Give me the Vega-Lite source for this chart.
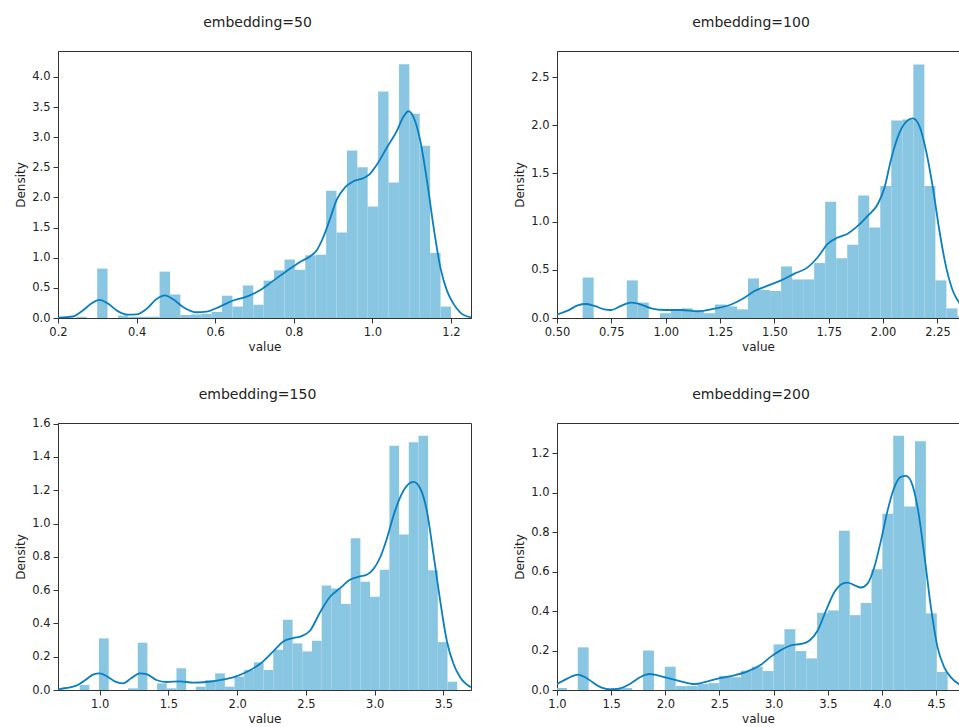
{
  "$schema": "https://vega.github.io/schema/vega-lite/v6.json",
  "padding": {"left": 14, "top": 15, "right": 0, "bottom": 0},
  "background": "white",
  "config": {
    "font": "DejaVu Sans",
    "view": {"stroke": "#333333", "strokeWidth": 1},
    "axis": {"grid": false, "labelFontSize": 11.5, "titleFontSize": 12, "titleFontWeight": "normal", "labelColor": "#222222", "titleColor": "#222222", "domainColor": "#333333", "tickColor": "#333333", "tickSize": 5, "labelPadding": 3, "titlePadding": 4, "labelFlush": false, "labelOverlap": false},
    "title": {"fontSize": 14, "fontWeight": "normal", "color": "#222222", "anchor": "middle", "dx": -7, "offset": 21}
  },
  "datasets": {
    "h50": [
      {"x0": 0.2467, "x1": 0.2732, "density": 0.02},
      {"x0": 0.2997, "x1": 0.3261, "density": 0.82},
      {"x0": 0.3526, "x1": 0.3791, "density": 0.04},
      {"x0": 0.3791, "x1": 0.4056, "density": 0.02},
      {"x0": 0.4056, "x1": 0.4321, "density": 0.02},
      {"x0": 0.4321, "x1": 0.4585, "density": 0.02},
      {"x0": 0.4585, "x1": 0.4850, "density": 0.77},
      {"x0": 0.4850, "x1": 0.5115, "density": 0.39},
      {"x0": 0.5115, "x1": 0.5380, "density": 0.05},
      {"x0": 0.5380, "x1": 0.5645, "density": 0.06},
      {"x0": 0.5645, "x1": 0.5909, "density": 0.07},
      {"x0": 0.5909, "x1": 0.6174, "density": 0.10},
      {"x0": 0.6174, "x1": 0.6439, "density": 0.37},
      {"x0": 0.6439, "x1": 0.6704, "density": 0.19},
      {"x0": 0.6704, "x1": 0.6969, "density": 0.54},
      {"x0": 0.6969, "x1": 0.7233, "density": 0.22},
      {"x0": 0.7233, "x1": 0.7498, "density": 0.62},
      {"x0": 0.7498, "x1": 0.7763, "density": 0.79},
      {"x0": 0.7763, "x1": 0.8028, "density": 0.97},
      {"x0": 0.8028, "x1": 0.8293, "density": 0.80},
      {"x0": 0.8293, "x1": 0.8557, "density": 1.04},
      {"x0": 0.8557, "x1": 0.8822, "density": 1.05},
      {"x0": 0.8822, "x1": 0.9087, "density": 2.11},
      {"x0": 0.9087, "x1": 0.9352, "density": 1.42},
      {"x0": 0.9352, "x1": 0.9617, "density": 2.78},
      {"x0": 0.9617, "x1": 0.9881, "density": 2.50},
      {"x0": 0.9881, "x1": 1.0146, "density": 1.85},
      {"x0": 1.0146, "x1": 1.0411, "density": 3.76},
      {"x0": 1.0411, "x1": 1.0676, "density": 2.25},
      {"x0": 1.0676, "x1": 1.0941, "density": 4.21},
      {"x0": 1.0941, "x1": 1.1205, "density": 3.39},
      {"x0": 1.1205, "x1": 1.1470, "density": 2.86},
      {"x0": 1.1470, "x1": 1.1735, "density": 1.08},
      {"x0": 1.1735, "x1": 1.2000, "density": 0.19}
    ],
    "k50": [
      {"value": 0.2, "density": 0.005}, {"value": 0.238, "density": 0.025}, {"value": 0.264, "density": 0.13},
      {"value": 0.285, "density": 0.24}, {"value": 0.306, "density": 0.30}, {"value": 0.327, "density": 0.24},
      {"value": 0.353, "density": 0.11}, {"value": 0.378, "density": 0.055}, {"value": 0.4, "density": 0.06},
      {"value": 0.425, "density": 0.15}, {"value": 0.45, "density": 0.31}, {"value": 0.472, "density": 0.375},
      {"value": 0.493, "density": 0.31}, {"value": 0.519, "density": 0.18}, {"value": 0.553, "density": 0.095},
      {"value": 0.578, "density": 0.105}, {"value": 0.612, "density": 0.19}, {"value": 0.646, "density": 0.29},
      {"value": 0.68, "density": 0.355}, {"value": 0.714, "density": 0.46}, {"value": 0.748, "density": 0.62},
      {"value": 0.782, "density": 0.78}, {"value": 0.816, "density": 0.93}, {"value": 0.841, "density": 1.02},
      {"value": 0.858, "density": 1.12}, {"value": 0.875, "density": 1.34}, {"value": 0.892, "density": 1.64},
      {"value": 0.909, "density": 1.96}, {"value": 0.931, "density": 2.17}, {"value": 0.952, "density": 2.27},
      {"value": 0.977, "density": 2.32}, {"value": 0.994, "density": 2.39}, {"value": 1.011, "density": 2.54},
      {"value": 1.037, "density": 2.83}, {"value": 1.062, "density": 3.10}, {"value": 1.079, "density": 3.34},
      {"value": 1.092, "density": 3.43}, {"value": 1.105, "density": 3.33}, {"value": 1.122, "density": 2.94},
      {"value": 1.139, "density": 2.28}, {"value": 1.156, "density": 1.50}, {"value": 1.173, "density": 0.84},
      {"value": 1.19, "density": 0.45}, {"value": 1.207, "density": 0.23}, {"value": 1.224, "density": 0.09},
      {"value": 1.251, "density": 0.01}
    ],
    "h100": [
      {"x0": 0.6180, "x1": 0.6687, "density": 0.42},
      {"x0": 0.8208, "x1": 0.8715, "density": 0.39},
      {"x0": 0.8715, "x1": 0.9222, "density": 0.16},
      {"x0": 0.9729, "x1": 1.0236, "density": 0.05},
      {"x0": 1.0236, "x1": 1.0743, "density": 0.08},
      {"x0": 1.0743, "x1": 1.1250, "density": 0.10},
      {"x0": 1.1250, "x1": 1.1757, "density": 0.07},
      {"x0": 1.1757, "x1": 1.2264, "density": 0.05},
      {"x0": 1.2264, "x1": 1.2771, "density": 0.14},
      {"x0": 1.2771, "x1": 1.3278, "density": 0.12},
      {"x0": 1.3278, "x1": 1.3785, "density": 0.09},
      {"x0": 1.3785, "x1": 1.4292, "density": 0.41},
      {"x0": 1.4292, "x1": 1.4799, "density": 0.29},
      {"x0": 1.4799, "x1": 1.5306, "density": 0.28},
      {"x0": 1.5306, "x1": 1.5813, "density": 0.535},
      {"x0": 1.5813, "x1": 1.6320, "density": 0.40},
      {"x0": 1.6320, "x1": 1.6827, "density": 0.40},
      {"x0": 1.6827, "x1": 1.7334, "density": 0.57},
      {"x0": 1.7334, "x1": 1.7841, "density": 1.205},
      {"x0": 1.7841, "x1": 1.8348, "density": 0.62},
      {"x0": 1.8348, "x1": 1.8855, "density": 0.76},
      {"x0": 1.8855, "x1": 1.9362, "density": 1.27},
      {"x0": 1.9362, "x1": 1.9869, "density": 0.94},
      {"x0": 1.9869, "x1": 2.0376, "density": 1.37},
      {"x0": 2.0376, "x1": 2.0883, "density": 2.05},
      {"x0": 2.0883, "x1": 2.1390, "density": 2.06},
      {"x0": 2.1390, "x1": 2.1897, "density": 2.63},
      {"x0": 2.1897, "x1": 2.2404, "density": 1.37},
      {"x0": 2.2404, "x1": 2.2911, "density": 0.39},
      {"x0": 2.2911, "x1": 2.3418, "density": 0.10},
      {"x0": 2.3418, "x1": 2.3925, "density": 0.02}
    ],
    "k100": [
      {"value": 0.5, "density": 0.035}, {"value": 0.549, "density": 0.076}, {"value": 0.595, "density": 0.13},
      {"value": 0.633, "density": 0.145}, {"value": 0.672, "density": 0.125}, {"value": 0.718, "density": 0.09},
      {"value": 0.748, "density": 0.083}, {"value": 0.794, "density": 0.125}, {"value": 0.84, "density": 0.16},
      {"value": 0.879, "density": 0.145}, {"value": 0.933, "density": 0.10}, {"value": 0.994, "density": 0.083},
      {"value": 1.071, "density": 0.083}, {"value": 1.147, "density": 0.07}, {"value": 1.224, "density": 0.097},
      {"value": 1.301, "density": 0.14}, {"value": 1.362, "density": 0.21}, {"value": 1.408, "density": 0.28},
      {"value": 1.469, "density": 0.335}, {"value": 1.531, "density": 0.39}, {"value": 1.592, "density": 0.46},
      {"value": 1.653, "density": 0.525}, {"value": 1.699, "density": 0.63}, {"value": 1.745, "density": 0.77},
      {"value": 1.791, "density": 0.835}, {"value": 1.837, "density": 0.875}, {"value": 1.883, "density": 0.955},
      {"value": 1.929, "density": 1.06}, {"value": 1.975, "density": 1.18}, {"value": 2.006, "density": 1.35},
      {"value": 2.037, "density": 1.65}, {"value": 2.075, "density": 1.92}, {"value": 2.113, "density": 2.05},
      {"value": 2.137, "density": 2.07}, {"value": 2.167, "density": 1.99}, {"value": 2.198, "density": 1.73},
      {"value": 2.229, "density": 1.35}, {"value": 2.259, "density": 0.905}, {"value": 2.29, "density": 0.525},
      {"value": 2.321, "density": 0.28}, {"value": 2.354, "density": 0.145}
    ],
    "h150": [
      {"x0": 0.8544, "x1": 0.9248, "density": 0.03},
      {"x0": 0.9952, "x1": 1.0656, "density": 0.31},
      {"x0": 1.2064, "x1": 1.2767, "density": 0.01},
      {"x0": 1.2767, "x1": 1.3471, "density": 0.284},
      {"x0": 1.4175, "x1": 1.4879, "density": 0.04},
      {"x0": 1.4879, "x1": 1.5583, "density": 0.01},
      {"x0": 1.5583, "x1": 1.6287, "density": 0.13},
      {"x0": 1.6991, "x1": 1.7695, "density": 0.02},
      {"x0": 1.7695, "x1": 1.8399, "density": 0.06},
      {"x0": 1.8399, "x1": 1.9103, "density": 0.10},
      {"x0": 1.9103, "x1": 1.9806, "density": 0.02},
      {"x0": 1.9806, "x1": 2.0510, "density": 0.08},
      {"x0": 2.0510, "x1": 2.1214, "density": 0.12},
      {"x0": 2.1214, "x1": 2.1918, "density": 0.166},
      {"x0": 2.1918, "x1": 2.2622, "density": 0.12},
      {"x0": 2.2622, "x1": 2.3326, "density": 0.242},
      {"x0": 2.3326, "x1": 2.4030, "density": 0.422},
      {"x0": 2.4030, "x1": 2.4734, "density": 0.28},
      {"x0": 2.4734, "x1": 2.5438, "density": 0.232},
      {"x0": 2.5438, "x1": 2.6142, "density": 0.296},
      {"x0": 2.6142, "x1": 2.6845, "density": 0.628},
      {"x0": 2.6845, "x1": 2.7549, "density": 0.61},
      {"x0": 2.7549, "x1": 2.8253, "density": 0.516},
      {"x0": 2.8253, "x1": 2.8957, "density": 0.912},
      {"x0": 2.8957, "x1": 2.9661, "density": 0.65},
      {"x0": 2.9661, "x1": 3.0365, "density": 0.56},
      {"x0": 3.0365, "x1": 3.1069, "density": 0.722},
      {"x0": 3.1069, "x1": 3.1773, "density": 1.468},
      {"x0": 3.1773, "x1": 3.2477, "density": 0.934},
      {"x0": 3.2477, "x1": 3.3181, "density": 1.488},
      {"x0": 3.3181, "x1": 3.3884, "density": 1.528},
      {"x0": 3.3884, "x1": 3.4588, "density": 0.72},
      {"x0": 3.4588, "x1": 3.5292, "density": 0.288},
      {"x0": 3.5292, "x1": 3.5996, "density": 0.05}
    ],
    "k150": [
      {"value": 0.697, "density": 0.004}, {"value": 0.757, "density": 0.012}, {"value": 0.83, "density": 0.026},
      {"value": 0.903, "density": 0.064}, {"value": 0.951, "density": 0.092}, {"value": 1.0, "density": 0.10},
      {"value": 1.049, "density": 0.084}, {"value": 1.109, "density": 0.052}, {"value": 1.17, "density": 0.04},
      {"value": 1.231, "density": 0.072}, {"value": 1.291, "density": 0.10}, {"value": 1.34, "density": 0.096},
      {"value": 1.413, "density": 0.06}, {"value": 1.485, "density": 0.048}, {"value": 1.583, "density": 0.052},
      {"value": 1.68, "density": 0.044}, {"value": 1.777, "density": 0.048}, {"value": 1.874, "density": 0.06},
      {"value": 1.971, "density": 0.076}, {"value": 2.068, "density": 0.108}, {"value": 2.165, "density": 0.156},
      {"value": 2.262, "density": 0.232}, {"value": 2.335, "density": 0.292}, {"value": 2.408, "density": 0.312},
      {"value": 2.468, "density": 0.324}, {"value": 2.529, "density": 0.356}, {"value": 2.602, "density": 0.466},
      {"value": 2.675, "density": 0.56}, {"value": 2.748, "density": 0.612}, {"value": 2.82, "density": 0.662},
      {"value": 2.893, "density": 0.682}, {"value": 2.942, "density": 0.692}, {"value": 2.99, "density": 0.726},
      {"value": 3.039, "density": 0.796}, {"value": 3.087, "density": 0.906}, {"value": 3.136, "density": 1.046},
      {"value": 3.184, "density": 1.156}, {"value": 3.233, "density": 1.226}, {"value": 3.282, "density": 1.25},
      {"value": 3.33, "density": 1.212}, {"value": 3.379, "density": 1.076}, {"value": 3.427, "density": 0.816},
      {"value": 3.476, "density": 0.536}, {"value": 3.524, "density": 0.296}, {"value": 3.573, "density": 0.156},
      {"value": 3.621, "density": 0.076}, {"value": 3.699, "density": 0.016}
    ],
    "h200": [
      {"x0": 0.9908, "x1": 1.0912, "density": 0.01},
      {"x0": 1.1917, "x1": 1.2921, "density": 0.216},
      {"x0": 1.4930, "x1": 1.5934, "density": 0.01},
      {"x0": 1.5934, "x1": 1.6938, "density": 0.01},
      {"x0": 1.7942, "x1": 1.8947, "density": 0.20},
      {"x0": 1.9951, "x1": 2.0955, "density": 0.118},
      {"x0": 2.0955, "x1": 2.1960, "density": 0.02},
      {"x0": 2.1960, "x1": 2.2964, "density": 0.02},
      {"x0": 2.2964, "x1": 2.3968, "density": 0.03},
      {"x0": 2.3968, "x1": 2.4973, "density": 0.035},
      {"x0": 2.4973, "x1": 2.5977, "density": 0.072},
      {"x0": 2.5977, "x1": 2.6981, "density": 0.065},
      {"x0": 2.6981, "x1": 2.7985, "density": 0.098},
      {"x0": 2.7985, "x1": 2.8990, "density": 0.118},
      {"x0": 2.8990, "x1": 2.9994, "density": 0.096},
      {"x0": 2.9994, "x1": 3.0998, "density": 0.231},
      {"x0": 3.0998, "x1": 3.2003, "density": 0.308},
      {"x0": 3.2003, "x1": 3.3007, "density": 0.197},
      {"x0": 3.3007, "x1": 3.4011, "density": 0.16},
      {"x0": 3.4011, "x1": 3.5016, "density": 0.391},
      {"x0": 3.5016, "x1": 3.6020, "density": 0.403},
      {"x0": 3.6020, "x1": 3.7024, "density": 0.806},
      {"x0": 3.7024, "x1": 3.8029, "density": 0.379},
      {"x0": 3.8029, "x1": 3.9033, "density": 0.44},
      {"x0": 3.9033, "x1": 4.0037, "density": 0.612},
      {"x0": 4.0037, "x1": 4.1041, "density": 0.892},
      {"x0": 4.1041, "x1": 4.2046, "density": 1.288},
      {"x0": 4.2046, "x1": 4.3050, "density": 0.929},
      {"x0": 4.3050, "x1": 4.4054, "density": 1.259},
      {"x0": 4.4054, "x1": 4.5059, "density": 0.388},
      {"x0": 4.5059, "x1": 4.6063, "density": 0.091}
    ],
    "k200": [
      {"value": 1.0, "density": 0.03}, {"value": 1.068, "density": 0.05}, {"value": 1.129, "density": 0.067},
      {"value": 1.191, "density": 0.078}, {"value": 1.252, "density": 0.067}, {"value": 1.329, "density": 0.039},
      {"value": 1.406, "density": 0.013}, {"value": 1.498, "density": 0.003}, {"value": 1.591, "density": 0.01},
      {"value": 1.683, "density": 0.034}, {"value": 1.775, "density": 0.067}, {"value": 1.852, "density": 0.081},
      {"value": 1.929, "density": 0.074}, {"value": 2.021, "density": 0.061}, {"value": 2.144, "density": 0.044},
      {"value": 2.267, "density": 0.03}, {"value": 2.39, "density": 0.044}, {"value": 2.513, "density": 0.061},
      {"value": 2.636, "density": 0.074}, {"value": 2.759, "density": 0.094}, {"value": 2.882, "density": 0.128},
      {"value": 2.975, "density": 0.169}, {"value": 3.067, "density": 0.202}, {"value": 3.16, "density": 0.226},
      {"value": 3.252, "density": 0.233}, {"value": 3.329, "density": 0.249}, {"value": 3.405, "density": 0.30},
      {"value": 3.482, "density": 0.401}, {"value": 3.559, "density": 0.494}, {"value": 3.636, "density": 0.539},
      {"value": 3.682, "density": 0.544}, {"value": 3.744, "density": 0.531}, {"value": 3.805, "density": 0.519},
      {"value": 3.867, "density": 0.539}, {"value": 3.928, "density": 0.62}, {"value": 3.99, "density": 0.755},
      {"value": 4.051, "density": 0.907}, {"value": 4.113, "density": 1.025}, {"value": 4.174, "density": 1.079},
      {"value": 4.221, "density": 1.084}, {"value": 4.267, "density": 1.058}, {"value": 4.329, "density": 0.924},
      {"value": 4.39, "density": 0.688}, {"value": 4.452, "density": 0.418}, {"value": 4.513, "density": 0.216},
      {"value": 4.575, "density": 0.115}, {"value": 4.636, "density": 0.064}, {"value": 4.719, "density": 0.027}
    ]
  },
  "vconcat": [
    {
      "hconcat": [
        {
          "title": {"text": "embedding=50"},
          "width": 413, "height": 267,
          "layer": [
            {"data": {"name": "h50"}, "mark": {"type": "rect", "color": "#89c6e2", "clip": true},
             "encoding": {
               "x": {"field": "x0", "type": "quantitative", "scale": {"domain": [0.2, 1.251], "nice": false, "zero": false}, "axis": {"title": "value", "values": [0.2, 0.4, 0.6, 0.8, 1.0, 1.2], "format": ".1f"}},
               "x2": {"field": "x1"},
               "y": {"field": "density", "type": "quantitative", "scale": {"domain": [0, 4.43], "nice": false}, "axis": {"title": "Density", "values": [0, 0.5, 1, 1.5, 2, 2.5, 3, 3.5, 4], "format": ".1f"}},
               "y2": {"datum": 0}}},
            {"data": {"name": "k50"}, "mark": {"type": "line", "color": "#0a7fc0", "strokeWidth": 1.8, "interpolate": "monotone", "clip": true},
             "encoding": {
               "x": {"field": "value", "type": "quantitative", "scale": {"domain": [0.2, 1.251], "nice": false, "zero": false}, "axis": {"title": "value", "values": [0.2, 0.4, 0.6, 0.8, 1.0, 1.2], "format": ".1f"}},
               "y": {"field": "density", "type": "quantitative", "scale": {"domain": [0, 4.43], "nice": false}, "axis": {"title": "Density", "values": [0, 0.5, 1, 1.5, 2, 2.5, 3, 3.5, 4], "format": ".1f"}}}}
          ]
        },
        {
          "title": {"text": "embedding=100"},
          "width": 402, "height": 267,
          "layer": [
            {"data": {"name": "h100"}, "mark": {"type": "rect", "color": "#89c6e2", "clip": true},
             "encoding": {
               "x": {"field": "x0", "type": "quantitative", "scale": {"domain": [0.5, 2.349], "nice": false, "zero": false}, "axis": {"title": "value", "values": [0.5, 0.75, 1.0, 1.25, 1.5, 1.75, 2.0, 2.25], "format": ".2f"}},
               "x2": {"field": "x1"},
               "y": {"field": "density", "type": "quantitative", "scale": {"domain": [0, 2.77], "nice": false}, "axis": {"title": "Density", "values": [0, 0.5, 1, 1.5, 2, 2.5], "format": ".1f"}},
               "y2": {"datum": 0}}},
            {"data": {"name": "k100"}, "mark": {"type": "line", "color": "#0a7fc0", "strokeWidth": 1.8, "interpolate": "monotone", "clip": true},
             "encoding": {
               "x": {"field": "value", "type": "quantitative", "scale": {"domain": [0.5, 2.349], "nice": false, "zero": false}, "axis": {"title": "value", "values": [0.5, 0.75, 1.0, 1.25, 1.5, 1.75, 2.0, 2.25], "format": ".2f"}},
               "y": {"field": "density", "type": "quantitative", "scale": {"domain": [0, 2.77], "nice": false}, "axis": {"title": "Density", "values": [0, 0.5, 1, 1.5, 2, 2.5], "format": ".1f"}}}}
          ]
        }
      ],
      "spacing": 41
    },
    {
      "hconcat": [
        {
          "title": {"text": "embedding=150", "offset": 16},
          "width": 413, "height": 267,
          "layer": [
            {"data": {"name": "h150"}, "mark": {"type": "rect", "color": "#89c6e2", "clip": true},
             "encoding": {
               "x": {"field": "x0", "type": "quantitative", "scale": {"domain": [0.697, 3.7], "nice": false, "zero": false}, "axis": {"title": "value", "values": [1.0, 1.5, 2.0, 2.5, 3.0, 3.5], "format": ".1f"}},
               "x2": {"field": "x1"},
               "y": {"field": "density", "type": "quantitative", "scale": {"domain": [0, 1.604], "nice": false}, "axis": {"title": "Density", "values": [0, 0.2, 0.4, 0.6, 0.8, 1.0, 1.2, 1.4, 1.6], "format": ".1f"}},
               "y2": {"datum": 0}}},
            {"data": {"name": "k150"}, "mark": {"type": "line", "color": "#0a7fc0", "strokeWidth": 1.8, "interpolate": "monotone", "clip": true},
             "encoding": {
               "x": {"field": "value", "type": "quantitative", "scale": {"domain": [0.697, 3.7], "nice": false, "zero": false}, "axis": {"title": "value", "values": [1.0, 1.5, 2.0, 2.5, 3.0, 3.5], "format": ".1f"}},
               "y": {"field": "density", "type": "quantitative", "scale": {"domain": [0, 1.604], "nice": false}, "axis": {"title": "Density", "values": [0, 0.2, 0.4, 0.6, 0.8, 1.0, 1.2, 1.4, 1.6], "format": ".1f"}}}}
          ]
        },
        {
          "title": {"text": "embedding=200"},
          "width": 402, "height": 267,
          "layer": [
            {"data": {"name": "h200"}, "mark": {"type": "rect", "color": "#89c6e2", "clip": true},
             "encoding": {
               "x": {"field": "x0", "type": "quantitative", "scale": {"domain": [1.0, 4.711], "nice": false, "zero": false}, "axis": {"title": "value", "values": [1.0, 1.5, 2.0, 2.5, 3.0, 3.5, 4.0, 4.5], "format": ".1f"}},
               "x2": {"field": "x1"},
               "y": {"field": "density", "type": "quantitative", "scale": {"domain": [0, 1.352], "nice": false}, "axis": {"title": "Density", "values": [0, 0.2, 0.4, 0.6, 0.8, 1.0, 1.2], "format": ".1f"}},
               "y2": {"datum": 0}}},
            {"data": {"name": "k200"}, "mark": {"type": "line", "color": "#0a7fc0", "strokeWidth": 1.8, "interpolate": "monotone", "clip": true},
             "encoding": {
               "x": {"field": "value", "type": "quantitative", "scale": {"domain": [1.0, 4.711], "nice": false, "zero": false}, "axis": {"title": "value", "values": [1.0, 1.5, 2.0, 2.5, 3.0, 3.5, 4.0, 4.5], "format": ".1f"}},
               "y": {"field": "density", "type": "quantitative", "scale": {"domain": [0, 1.352], "nice": false}, "axis": {"title": "Density", "values": [0, 0.2, 0.4, 0.6, 0.8, 1.0, 1.2], "format": ".1f"}}}}
          ]
        }
      ],
      "spacing": 41
    }
  ],
  "spacing": 34
}
